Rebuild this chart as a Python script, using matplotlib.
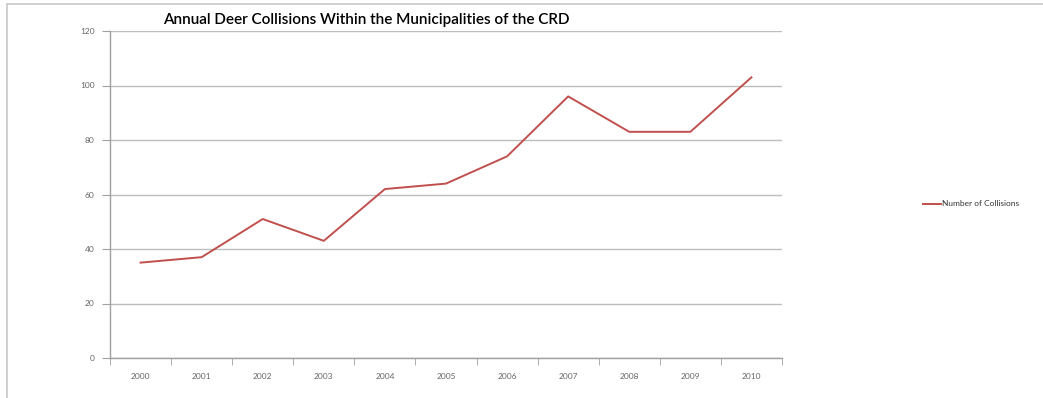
import numpy as np
import matplotlib
matplotlib.use("Agg")
import matplotlib.pyplot as plt
from matplotlib.patches import Rectangle

years = ["2000", "2001", "2002", "2003", "2004", "2005",
         "2006", "2007", "2008", "2009", "2010"]
collisions = [35, 37, 51, 43, 62, 64, 74, 96, 83, 83, 103]
y_ticks = [0, 20, 40, 60, 80, 100, 120]

W, H = 1043, 398
fig = plt.figure(figsize=(W / 100, H / 100), dpi=100)
fig.patch.set_facecolor("white")

# outer chart frame (only top and left edges are visible)
fig.add_artist(Rectangle((7 / W, -0.1), 1.2, (H - 4) / H + 0.1,
                         transform=fig.transFigure, fill=False,
                         edgecolor="#c8c8c8", linewidth=1.2))

ax = fig.add_axes([110 / W, 40 / H, 672 / W, 327 / H])
x = np.arange(len(years))
ax.plot(x, collisions, color="#c0504d", linewidth=1.4,
        label="Number of Collisions")

ax.set_xlim(-0.5, len(years) - 0.5)
ax.set_ylim(0, 120)
ax.set_yticks(y_ticks)
ax.set_yticklabels([str(v) for v in y_ticks])
ax.set_xticks(x)
ax.set_xticklabels(years)
ax.set_xticks(np.arange(-0.5, len(years)), minor=True)
ax.tick_params(axis="x", which="major", length=0, pad=11)
ax.tick_params(axis="x", which="minor", length=5, color="#a0a0a0", direction="out")
ax.tick_params(axis="y", length=6, color="#a0a0a0", pad=5)
for lbl in ax.get_xticklabels() + ax.get_yticklabels():
    lbl.set_fontsize(6)
    lbl.set_color("#666666")
    lbl.set_family("Lato")

ax.grid(axis="y", color="#bdbdbd", linewidth=1)
ax.set_axisbelow(True)
for s in ["top", "right"]:
    ax.spines[s].set_visible(False)
for s in ["left", "bottom"]:
    ax.spines[s].set_color("#a0a0a0")
    ax.spines[s].set_linewidth(1)

fig.text(366 / W, 1 - 20 / H, "Annual Deer Collisions Within the Municipalities of the CRD",
         ha="center", va="center", fontsize=11, family="Lato",
         fontweight="semibold", color="black")

leg = fig.legend(loc="center left", bbox_to_anchor=(915 / W, 1 - 204 / H),
                 frameon=False, handlelength=2.2, handletextpad=0.2,
                 prop={"family": "Lato", "size": 6})
for t in leg.get_texts():
    t.set_color("#333333")

fig.savefig("out.png", dpi=100, facecolor="white")
